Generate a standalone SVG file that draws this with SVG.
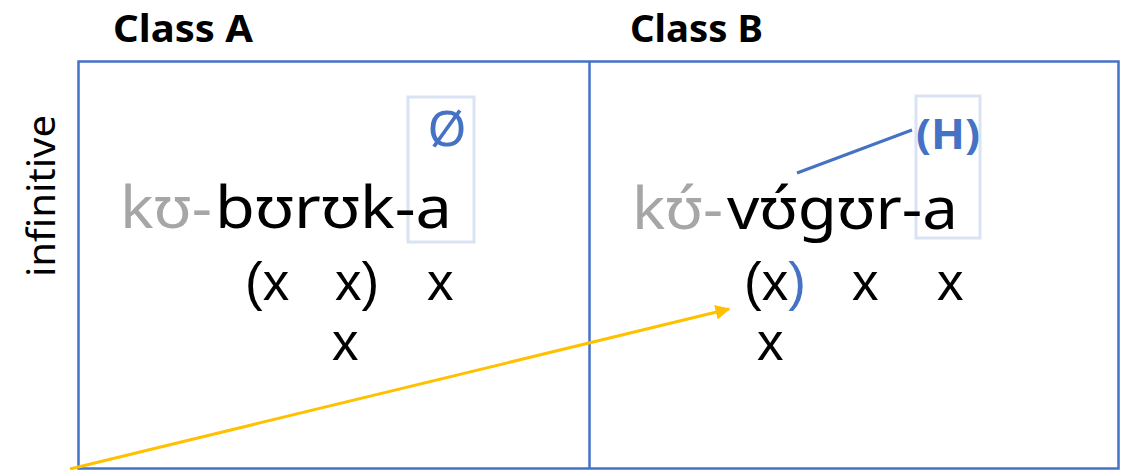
<svg xmlns="http://www.w3.org/2000/svg" width="1130" height="470" viewBox="0 0 1130 470">
<defs>
<style>
.frame{fill:none;stroke:#4472C4;stroke-width:2.5}
.hl{fill:none;stroke:#DAE3F3;stroke-width:3}
.t{font-family:"Noto Sans","Open Sans",sans-serif;fill:#000}
.word{font-size:58px}
.grey{fill:#A6A6A6}
.blue{fill:#4472C4}
.hdr{font-size:37px;font-weight:bold}
.grid{font-family:"Liberation Sans",Arial,sans-serif;font-size:53px;fill:#000}
</style>
<marker id="ah" viewBox="0 0 10 10" refX="9" refY="5" markerWidth="5" markerHeight="5" orient="auto" markerUnits="strokeWidth">
<path d="M0,0 L10,5 L0,10 z" fill="#FFC000"/>
</marker>
</defs>
<rect width="1130" height="470" fill="#fff"/>
<g id="frame">
<rect class="frame" x="78.5" y="61.5" width="1040" height="407"/>
<line class="frame" x1="589.5" y1="61.5" x2="589.5" y2="468.5"/>
</g>
<g id="headers">
<text class="t hdr" x="113" y="42" textLength="140" lengthAdjust="spacingAndGlyphs">Class A</text>
<text class="t hdr" x="630" y="42" textLength="133" lengthAdjust="spacingAndGlyphs">Class B</text>
<text class="t" font-size="38" transform="translate(55,277) rotate(-90)" textLength="162" lengthAdjust="spacingAndGlyphs">infinitive</text>
</g>
<g id="classA">
<rect class="hl" x="408" y="97" width="66" height="145"/>
<text class="t blue" font-size="50" x="447" y="146" text-anchor="middle">Ø</text>
<text class="t word grey" x="120" y="228" textLength="92" lengthAdjust="spacingAndGlyphs">kʊ-</text>
<text class="t word" x="215" y="228" textLength="237" lengthAdjust="spacingAndGlyphs">bʊrʊk-a</text>
<text class="grid" x="245" y="300">(x</text>
<text class="grid" x="335" y="300">x)</text>
<text class="grid" x="427" y="300">x</text>
<text class="grid" x="332" y="360">x</text>
</g>
<g id="classB">
<rect class="hl" x="916" y="96" width="64" height="142"/>
<text class="t blue" font-size="42" font-weight="bold" x="948" y="149" text-anchor="middle" textLength="64" lengthAdjust="spacingAndGlyphs">(H)</text>
<line x1="797" y1="173" x2="912" y2="130" stroke="#4472C4" stroke-width="3"/>
<text class="t word grey" x="632" y="229" textLength="91" lengthAdjust="spacingAndGlyphs">kʊ́-</text>
<text class="t word" x="727" y="229" textLength="231" lengthAdjust="spacingAndGlyphs">vʊ́gʊr-a</text>
<text class="grid" x="744" y="300">(x<tspan fill="#4472C4">)</tspan></text>
<text class="grid" x="852" y="300">x</text>
<text class="grid" x="937" y="300">x</text>
<text class="grid" x="757" y="360">x</text>
</g>
<g id="connectors">
<line x1="70" y1="469" x2="729" y2="309" stroke="#FFC000" stroke-width="3" marker-end="url(#ah)"/>
</g>
</svg>
